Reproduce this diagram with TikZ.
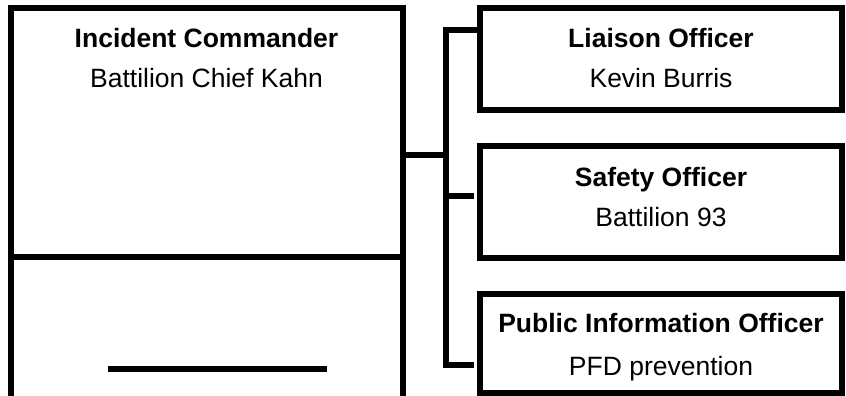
\documentclass[tikz,border=0pt]{standalone}
\usepackage{fontspec}
\setmainfont{Liberation Sans}
\tikzset{
  thickline/.style={line width=6pt, line join=miter},
  officebox/.style={draw, line width=6pt, minimum width=362pt, inner sep=0pt, outer sep=0pt},
  roletext/.style={anchor=base, inner sep=0pt, font=\fontsize{26.5}{32}\selectfont\bfseries},
  persontext/.style={anchor=base, inner sep=0pt, font=\fontsize{26.5}{32}\selectfont},
}
\begin{document}
\begin{tikzpicture}[x=1pt, y=-1pt]
\useasboundingbox (0,0) rectangle (846,396);
% Incident commander box (open at bottom)
\coordinate (icBL) at (11,396);
\coordinate (icTL) at (11,8);
\coordinate (icTR) at (402.5,8);
\coordinate (icBR) at (402.5,396);
\coordinate (icML) at (8,257);
\coordinate (icMR) at (405,257);
\draw[thickline] (icBL) -- (icTL) -- (icTR) -- (icBR);
\draw[thickline] (icML) -- (icMR);
\node[roletext] (ict) at (206.5,47.5) {Incident Commander};
\node[persontext] (icn) at (206.5,88) {Battilion Chief Kahn};
\coordinate (sigL) at (108,369);
\coordinate (sigR) at (327,369);
\draw[thickline] (sigL) -- (sigR);
% Officer boxes
\node[officebox, minimum height=102pt] (lo) at (661,59) {};
\node[officebox, minimum height=112pt] (so) at (661,202) {};
\node[officebox, minimum height=99pt] (pio) at (661,343.5) {};
\node[roletext] (lot) at (661,47.5) {Liaison Officer};
\node[persontext] (lon) at (661,88) {Kevin Burris};
\node[roletext] (sot) at (661,186) {Safety Officer};
\node[persontext] (son) at (661,226) {Battilion 93};
\node[roletext] (piot) at (661,332.5) {Public Information Officer};
\node[persontext] (pion) at (661,375) {PFD prevention};
% Connectors
\coordinate (icR) at (402.5,155);
\coordinate (j) at (446,155);
\coordinate (bTop) at (446,30);
\coordinate (bBot) at (446,365);
\coordinate (loIn) at (477,30);
\coordinate (bMid) at (446,196);
\coordinate (soIn) at (474,196);
\coordinate (pioIn) at (474,365);
\draw[thickline] (icR) -- (j);
\draw[thickline] (loIn) -- (bTop) -- (bBot) -- (pioIn);
\draw[thickline] (bMid) -- (soIn);
\end{tikzpicture}
\end{document}
